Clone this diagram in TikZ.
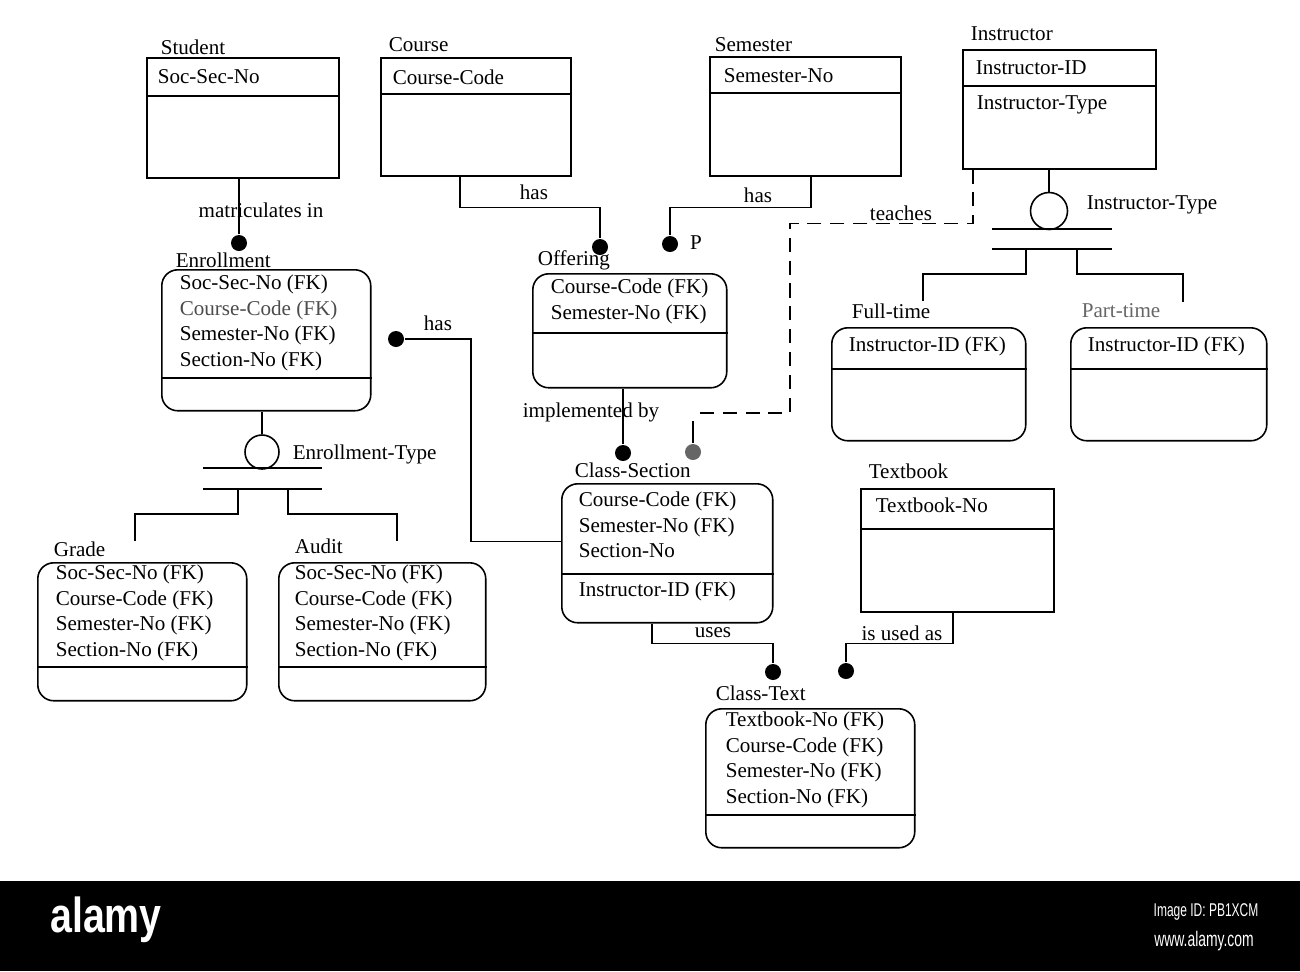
\documentclass[tikz,border=0pt]{standalone}
\usepackage{fontspec}
\setmainfont{Liberation Serif}
\newfontfamily\wmfont{Liberation Sans}
\usepackage{graphicx}
\usetikzlibrary{positioning, calc}

\begin{document}
\begin{tikzpicture}[x=0.02cm, y=-0.02cm, line width=0.9pt,
        txt/.style={inner sep=0pt, anchor=west, align=left, font=\fontsize{12}{14.5}\selectfont},
        rel/.style={txt, anchor=center},
        entity/.style={rectangle, draw, anchor=north west, inner sep=0pt},
        weak/.style={entity, rounded corners=0.32cm},
        dot/.style={circle, fill=black, inner sep=0pt, minimum size=0.32cm},
        subcirc/.style={circle, draw, inner sep=0pt},
        teachline/.style={dash pattern=on 8pt off 5pt},
        wm/.style={inner sep=0pt, text=white, font=\wmfont},
    ]
    \fill[white] (0,0) rectangle (1300,971);
    \useasboundingbox (0,0) rectangle (1300,971);
    % strong entities
    \node[entity, minimum width=3.84cm, minimum height=2.4cm] (student) at (146,57) {};
    \node[txt] (student-l) at (160,47) {Student};
    \node[txt] (student-a) at (157,77) {Soc-Sec-No};
    \node[entity, minimum width=3.8cm, minimum height=2.36cm] (course) at (380,57) {};
    \node[txt] (course-l) at (388,45) {Course};
    \node[txt] (course-a) at (392,77) {Course-Code};
    \node[entity, minimum width=3.82cm, minimum height=2.38cm] (semester) at (709,56) {};
    \node[txt] (semester-l) at (714,45) {Semester};
    \node[txt] (semester-a) at (723,76) {Semester-No};
    \node[entity, minimum width=3.86cm, minimum height=2.38cm] (instructor) at (962,49) {};
    \node[txt] (instructor-l) at (970,34) {Instructor};
    \node[txt] (instructor-a1) at (975,68) {Instructor-ID};
    \node[txt] (instructor-a2) at (976,105) {Instructor-Type};
    \node[entity, minimum width=3.86cm, minimum height=2.46cm] (textbook) at (860,488) {};
    \node[txt] (textbook-l) at (868,471) {Textbook};
    \node[txt] (textbook-a) at (875,505) {Textbook-No};
    % dependent entities
    \node[weak, minimum width=4.18cm, minimum height=2.82cm] (enrollment) at (161,269) {};
    \node[txt] (enrollment-l) at (175,260) {Enrollment};
    \node[txt] (enrollment-a) at (179,323) {Soc-Sec-No (FK)\\{\color{black!70}Course-Code (FK)}\\Semester-No (FK)\\Section-No (FK)};
    \node[weak, minimum width=3.88cm, minimum height=2.28cm] (offering) at (532,273) {};
    \node[txt] (offering-l) at (537,260) {Offering};
    \node[txt] (offering-a) at (550,301.5) {Course-Code (FK)\\Semester-No (FK)};
    \node[weak, minimum width=3.88cm, minimum height=2.26cm] (fulltime) at (831,327) {};
    \node[txt] (fulltime-l) at (851,311) {Full-time};
    \node[txt] (fulltime-a) at (848,346) {Instructor-ID (FK)};
    \node[weak, minimum width=3.92cm, minimum height=2.26cm] (parttime) at (1070,327) {};
    \node[txt, text=black!60] (parttime-l) at (1081,311) {Part-time};
    \node[txt] (parttime-a) at (1087,346) {Instructor-ID (FK)};
    \node[weak, minimum width=4.22cm, minimum height=2.78cm] (csec) at (561,483) {};
    \node[txt] (csec-l) at (574,470) {Class-Section};
    \node[txt] (csec-a1) at (578,525) {Course-Code (FK)\\Semester-No (FK)\\Section-No};
    \node[txt] (csec-a2) at (578,591) {Instructor-ID (FK)};
    \node[weak, minimum width=4.18cm, minimum height=2.76cm] (grade) at (37,562) {};
    \node[txt] (grade-l) at (53,549) {Grade};
    \node[txt] (grade-a) at (55,613) {Soc-Sec-No (FK)\\Course-Code (FK)\\Semester-No (FK)\\Section-No (FK)};
    \node[weak, minimum width=4.14cm, minimum height=2.76cm] (audit) at (278,562) {};
    \node[txt] (audit-l) at (294,546) {Audit};
    \node[txt] (audit-a) at (294,613) {Soc-Sec-No (FK)\\Course-Code (FK)\\Semester-No (FK)\\Section-No (FK)};
    \node[weak, minimum width=4.18cm, minimum height=2.78cm] (ctext) at (705,708) {};
    \node[txt] (ctext-l) at (715,693) {Class-Text};
    \node[txt] (ctext-a) at (725,760) {Textbook-No (FK)\\Course-Code (FK)\\Semester-No (FK)\\Section-No (FK)};
    % key dividers
    \draw (student.west |- 0,96) -- (student.east |- 0,96);
    \draw (course.west |- 0,94) -- (course.east |- 0,94);
    \draw (semester.west |- 0,93) -- (semester.east |- 0,93);
    \draw (instructor.west |- 0,86) -- (instructor.east |- 0,86);
    \draw (textbook.west |- 0,529) -- (textbook.east |- 0,529);
    \draw (enrollment.west |- 0,378) -- (enrollment.east |- 0,378);
    \draw (offering.west |- 0,333) -- (offering.east |- 0,333);
    \draw (fulltime.west |- 0,369) -- (fulltime.east |- 0,369);
    \draw (parttime.west |- 0,369) -- (parttime.east |- 0,369);
    \draw (csec.west |- 0,574) -- (csec.east |- 0,574);
    \draw (grade.west |- 0,667) -- (grade.east |- 0,667);
    \draw (audit.west |- 0,667) -- (audit.east |- 0,667);
    \draw (ctext.west |- 0,815) -- (ctext.east |- 0,815);
    % relationship ends
    \node[dot] (d-matric) at (239,243) {};
    \node[dot] (d-crs) at (600,247) {};
    \node[dot] (d-sem) at (670,244) {};
    \node[dot] (d-impl) at (623,453) {};
    \node[dot, fill=black!60] (d-teach) at (693,452) {};
    \node[dot] (d-has) at (396,339) {};
    \node[dot] (d-uses) at (773,672) {};
    \node[dot] (d-usedas) at (846,671) {};
    \coordinate (teach-end) at (695,413);
    \node[rel] (r-matric) at (261,210) {matriculates in};
    \node[rel] (r-crs) at (534,192) {has};
    \node[rel] (r-sem) at (758,195) {has};
    \node[rel] (r-p) at (696,243) {P};
    \node[rel] (r-teach) at (901,213) {teaches};
    \node[rel] (r-impl) at (591,412) {implemented by};
    \node[rel] (r-has) at (438,323) {has};
    \node[rel] (r-uses) at (713,633) {uses};
    \node[rel] (r-usedas) at (902,633) {is used as};
    \draw (d-matric) -- (d-matric |- student.south);
    \draw ($(course.south west)+(80,0)$) |- ++(140,31) -- (d-crs);
    \draw ($(semester.south west)+(102,0)$) |- ++(-141,31) -- (d-sem);
    \draw[teachline] ($(instructor.south west)+(11,0)$) |- ++(-183,54) |- (teach-end);
    \draw (d-teach.north) -- ++(0,-22);
    \draw (d-impl) -- (d-impl |- offering.south);
    \draw (d-has) -- ++(75,0) |- ($(csec.west)+(0,-12)$);
    \draw ($(csec.south west)+(91,0)$) |- ++(121,20) -- (d-uses);
    \draw ($(textbook.south west)+(93,0)$) |- ++(-107,31) -- (d-usedas);
    % subtype clusters
    \node[subcirc, minimum size=0.68cm] (enr-circ) at (262,452) {};
    \node[txt] (enr-type) at (292,454) {Enrollment-Type};
    \draw (enr-circ) -- (enr-circ |- enrollment.south);
    \draw (203,468) -- (322,468); \draw (203,489) -- (322,489);
    \coordinate (enr-t1) at (238,489); \coordinate (enr-e1) at (135,541);
    \coordinate (enr-t2) at (288,489); \coordinate (enr-e2) at (397,541);
    \draw (enr-t1) -- ++(0,25) -| (enr-e1);
    \draw (enr-t2) -- ++(0,25) -| (enr-e2);
    \node[subcirc, minimum size=0.74cm] (ins-circ) at (1049,211) {};
    \node[txt] (ins-type) at (1086,205) {Instructor-Type};
    \draw (ins-circ) -- (ins-circ |- instructor.south);
    \draw (992,229) -- (1112,229); \draw (992,249) -- (1112,249);
    \coordinate (ins-t1) at (1026,249); \coordinate (ins-e1) at (923,301);
    \coordinate (ins-t2) at (1077,249); \coordinate (ins-e2) at (1183,302);
    \draw (ins-t1) -- ++(0,25) -| (ins-e1);
    \draw (ins-t2) -- ++(0,25) -| (ins-e2);
    % stock bar
    \fill[black] (0,881) rectangle (1300,971);
    \node[wm, font=\wmfont\bfseries\fontsize{28}{30}\selectfont] (wm-logo) at (106,920) {\scalebox{0.8}[1]{alamy}};
    \node[wm, font=\wmfont\fontsize{10.5}{12}\selectfont] (wm-id) at (1206,912) {\scalebox{0.65}[1]{Image ID: PB1XCM}};
    \node[wm, font=\wmfont\fontsize{12}{13}\selectfont] (wm-url) at (1204,941) {\scalebox{0.66}[1]{www.alamy.com}};
\end{tikzpicture}
\end{document}
